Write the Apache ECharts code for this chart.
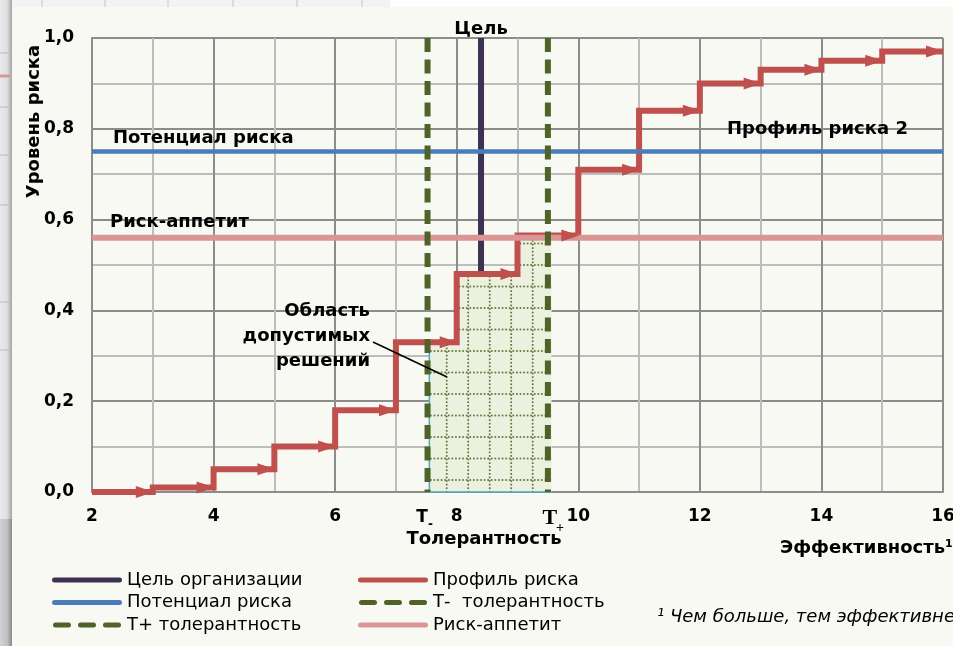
<!DOCTYPE html>
<html><head><meta charset="utf-8">
<script src="https://cdn.jsdelivr.net/npm/echarts@6/dist/echarts.min.js"></script>
<style>html,body{margin:0;padding:0;background:#f7f9f2;}#c{width:953px;height:646px;}</style>
</head><body><div id="c"></div>
<script>
// ---------- data ----------
const xTickLabels = ['2', '4', '6', '8', '10', '12', '14', '16'];
const yTickLabels = ['0,0', '0,2', '0,4', '0,6', '0,8', '1,0'];
const profileX = [2, 3, 4, 5, 6, 7, 8, 9, 10, 11, 12, 13, 14, 15, 16];
const profileY = [0, 0.01, 0.05, 0.10, 0.18, 0.33, 0.48, 0.565, 0.71, 0.84, 0.90, 0.93, 0.95, 0.97, 0.97];
const goalX = 8.4;
const tMinusX = 7.52;
const tPlusX = 9.5;
const potentialY = 0.75;
const appetiteY = 0.56;
const regionX = [7.55, 7.55, 8, 8, 9, 9, 9.56, 9.56];
const regionY = [0, 0.33, 0.33, 0.48, 0.48, 0.56, 0.56, 0];
const xRange = [2, 16];
const yRange = [0, 1];
const names = {
  goal: 'Цель организации', profile: 'Профиль риска', potential: 'Потенциал риска',
  tMinus: 'Т-  толерантность', tPlus: 'Т+ толерантность', appetite: 'Риск-аппетит'
};

// ---------- styles ----------
const C = { goal: '#3f3151', profile: '#c0504d', potential: '#4a7ebb', appetite: '#d99694', tol: '#4f6228' };
const FONT = '"DejaVu Sans"';

function makePattern() {
  const s = 43, c = document.createElement('canvas');
  c.width = s; c.height = s;
  const g = c.getContext('2d');
  g.fillStyle = '#ebf1de'; g.fillRect(0, 0, s, s);
  g.fillStyle = '#5f7338';
  const step = s / 12;
  [16.7, 38.2].forEach(x => { for (let k = 0; k < 12; k++) g.fillRect(x - 0.85, k * step, 1.7, 1.7); });
  [7, 28.5].forEach(y => { for (let k = 0; k < 12; k++) g.fillRect(k * step, y - 0.85, 1.7, 1.7); });
  return c;
}
const pattern = { image: makePattern(), repeat: 'repeat' };

const solidIcon = 'path://M2.5,0H67.5A2.5,2.5,0,0,1,67.5,5H2.5A2.5,2.5,0,0,1,2.5,0Z';
const dashIcon = 'path://M2.5,0H15.5A2.5,2.5,0,0,1,15.5,5H2.5A2.5,2.5,0,0,1,2.5,0Z' +
  'M27.5,0H40.5A2.5,2.5,0,0,1,40.5,5H27.5A2.5,2.5,0,0,1,27.5,0Z' +
  'M52.5,0H65.5A2.5,2.5,0,0,1,65.5,5H52.5A2.5,2.5,0,0,1,52.5,0Z';

const arrowData = profileY.slice(0, -1).map((y, i) => [profileX[i + 1], y]);

const axisCommon = {
  type: 'value',
  axisLine: { show: true, lineStyle: { color: '#8c8c8c', width: 2 } },
  axisTick: { show: false },
  splitLine: { show: true, lineStyle: { color: '#8c8c8c', width: 2 } },
  minorTick: { show: false, splitNumber: 2 },
  minorSplitLine: { show: true, lineStyle: { color: '#bdbdbd', width: 2 } }
};
const labelCommon = { show: true, color: '#000', fontSize: 17, fontWeight: 'bold', fontFamily: FONT, showMinLabel: true, showMaxLabel: true };

const legendCommon = {
  orient: 'vertical', top: 569, padding: 0, itemGap: 0.5, itemWidth: 70, itemHeight: 5,
  selectedMode: false,
  textStyle: { fontFamily: FONT, fontSize: 18, color: '#000', lineHeight: 22 }
};

const dashStyle = { color: C.tol, width: 6, type: [14, 7.5], cap: 'butt' };

const option = {
  animation: false,
  backgroundColor: '#f7f9f2',
  textStyle: { fontFamily: FONT },
  grid: { left: 92, right: 10, top: 38, bottom: 154, containLabel: false, outerBoundsMode: 'none' },
  xAxis: Object.assign({}, axisCommon, {
    min: xRange[0], max: xRange[1], interval: 2,
    axisLabel: Object.assign({}, labelCommon, { margin: 16, formatter: v => xTickLabels[Math.round((v - xRange[0]) / 2)] })
  }),
  yAxis: Object.assign({}, axisCommon, {
    min: yRange[0], max: yRange[1], interval: 0.2,
    axisLabel: Object.assign({}, labelCommon, { margin: 18, formatter: v => yTickLabels[Math.round(v / 0.2)] })
  }),
  legend: [
    Object.assign({}, legendCommon, { left: 52, data: [
      { name: names.goal, icon: solidIcon, itemStyle: { color: C.goal, borderWidth: 0 } },
      { name: names.potential, icon: solidIcon, itemStyle: { color: C.potential, borderWidth: 0 } },
      { name: names.tPlus, icon: dashIcon, itemStyle: { color: C.tol, borderWidth: 0 } }
    ] }),
    Object.assign({}, legendCommon, { left: 358, data: [
      { name: names.profile, icon: solidIcon, itemStyle: { color: C.profile, borderWidth: 0 } },
      { name: names.tMinus, icon: dashIcon, itemStyle: { color: C.tol, borderWidth: 0 } },
      { name: names.appetite, icon: solidIcon, itemStyle: { color: C.appetite, borderWidth: 0 } }
    ] })
  ],
  series: [
    { type: 'line', name: names.goal, z: 2, silent: true, symbol: 'none', color: C.goal,
      data: [[goalX, yRange[1]], [goalX, yRange[0]]],
      lineStyle: { color: C.goal, width: 6 } },
    { type: 'custom', name: 'region', z: 3, silent: true,
      data: [[regionX[0], regionY[0]]],
      renderItem: (params, api) => {
        const pts = regionX.map((x, i) => api.coord([x, regionY[i]]));
        return { type: 'group', children: [
          { type: 'polygon', shape: { points: pts }, style: { fill: pattern } },
          { type: 'polyline', shape: { points: [pts[1], pts[0], pts[pts.length - 1]] },
            style: { stroke: '#4bacc6', lineWidth: 1.5, fill: null } }
        ] };
      } },
    { type: 'line', name: names.profile, z: 4, silent: true, symbol: 'none', step: 'end', color: C.profile,
      data: profileX.map((x, i) => [x, profileY[i]]),
      lineStyle: { color: C.profile, width: 6, join: 'miter' } },
    { type: 'line', name: names.potential, z: 5, silent: true, symbol: 'none', color: C.potential,
      data: [[xRange[0], potentialY], [xRange[1], potentialY]],
      lineStyle: { color: C.potential, width: 4.5 } },
    { type: 'line', name: names.appetite, z: 5, silent: true, symbol: 'none', color: C.appetite,
      data: [[xRange[0], appetiteY], [xRange[1], appetiteY]],
      lineStyle: { color: C.appetite, width: 6 } },
    { type: 'custom', name: 'arrows', z: 6, silent: true, data: arrowData,
      renderItem: (params, api) => {
        const t = api.coord([api.value(0), api.value(1)]);
        return { type: 'polygon', shape: { points: [[t[0] + 1, t[1]], [t[0] - 17, t[1] - 6], [t[0] - 17, t[1] + 6]] },
          style: { fill: C.profile } };
      } },
    { type: 'line', name: names.tMinus, z: 7, silent: true, symbol: 'none', color: C.tol,
      data: [[tMinusX, yRange[1]], [tMinusX, yRange[0]]],
      lineStyle: dashStyle },
    { type: 'line', name: names.tPlus, z: 7, silent: true, symbol: 'none', color: C.tol,
      data: [[tPlusX, yRange[1]], [tPlusX, yRange[0]]],
      lineStyle: dashStyle }
  ]
};

const chart = echarts.init(document.getElementById('c'), null, { renderer: 'canvas' });
chart.setOption(option);

const px = (x, y) => chart.convertToPixel({ gridIndex: 0 }, [x, y]);
const gPos = px(goalX, yRange[1]);
const tmPos = px(tMinusX, 0);
const tpPos = px(tPlusX, 0);
const bold = s => 'bold ' + s + 'px ' + FONT;
const txt = (x, y, text, font, extra) => ({
  type: 'text', x: x, y: y, z: 100, silent: true,
  style: Object.assign({ text: text, font: font, fill: '#000', align: 'left', verticalAlign: 'middle' }, extra || {})
});

const grad = (a, b, c) => ({ type: 'linear', x: 0, y: 0, x2: 1, y2: 0,
  colorStops: [{ offset: 0, color: a }, { offset: 0.6, color: b }, { offset: 1, color: c }] });

const graphics = [
  { type: 'rect', z: -5, silent: true, shape: { x: 0, y: 0, width: 953, height: 7 }, style: { fill: '#f3f3f3' } },
  { type: 'rect', z: -5, silent: true, shape: { x: 390, y: 0, width: 563, height: 7 }, style: { fill: '#fdfdfd' } },
  { type: 'rect', z: -5, silent: true, shape: { x: 0, y: 0, width: 12, height: 519 }, style: { fill: grad('#eaeaea', '#dedede', '#a4a4a4') } },
  { type: 'rect', z: -5, silent: true, shape: { x: 0, y: 519, width: 12, height: 127 }, style: { fill: grad('#d2d2d2', '#c0c0c0', '#8a8a8a') } }
];
[42, 105, 168, 233, 297, 362].forEach(x => graphics.push({ type: 'line', z: -4, silent: true,
  shape: { x1: x, y1: 0, x2: x, y2: 7 }, style: { stroke: '#c4c4c4', lineWidth: 1 } }));
[53, 107, 155, 205, 302, 350].forEach(y => graphics.push({ type: 'line', z: -4, silent: true,
  shape: { x1: 0, y1: y, x2: 10, y2: y }, style: { stroke: '#b8b8b8', lineWidth: 1 } }));
graphics.push({ type: 'line', z: -4, silent: true, shape: { x1: 0, y1: 76, x2: 10, y2: 76 }, style: { stroke: '#d99694', lineWidth: 3 } });

graphics.push(
  txt(gPos[0], 29, 'Цель', bold(18), { align: 'center' }),
  txt(113, 138.5, 'Потенциал риска', bold(18)),
  txt(110, 222.5, 'Риск-аппетит', bold(18)),
  txt(727, 129.5, 'Профиль риска 2', bold(18)),
  txt(370, 336.5, 'Область\nдопустимых\nрешений', bold(18), { align: 'right', lineHeight: 25 }),
  txt(484, 539.5, 'Толерантность', bold(18), { align: 'center' }),
  txt(780, 548, 'Эффективность¹', bold(18)),
  txt(657, 617, '¹ Чем больше, тем эффективнее', 'italic 18px ' + FONT),
  Object.assign(txt(34, 121.5, 'Уровень риска', bold(18), { align: 'center' }), { rotation: Math.PI / 2 }),
  txt(tmPos[0] - 5.5, 518, 'T', bold(17), { align: 'center' }),
  txt(tmPos[0] + 3, 525, '-', bold(12), { align: 'center' }),
  txt(tpPos[0] + 2, 518.5, 'T', 'bold 22px "Liberation Serif"', { align: 'center' }),
  txt(tpPos[0] + 12, 528, '+', 'bold 14px "Liberation Serif"', { align: 'center' }),
  { type: 'line', z: 100, silent: true, shape: { x1: 373, y1: 342, x2: 447, y2: 377 }, style: { stroke: '#000', lineWidth: 1.5 } }
);
chart.setOption({ graphic: graphics });
</script></body></html>
